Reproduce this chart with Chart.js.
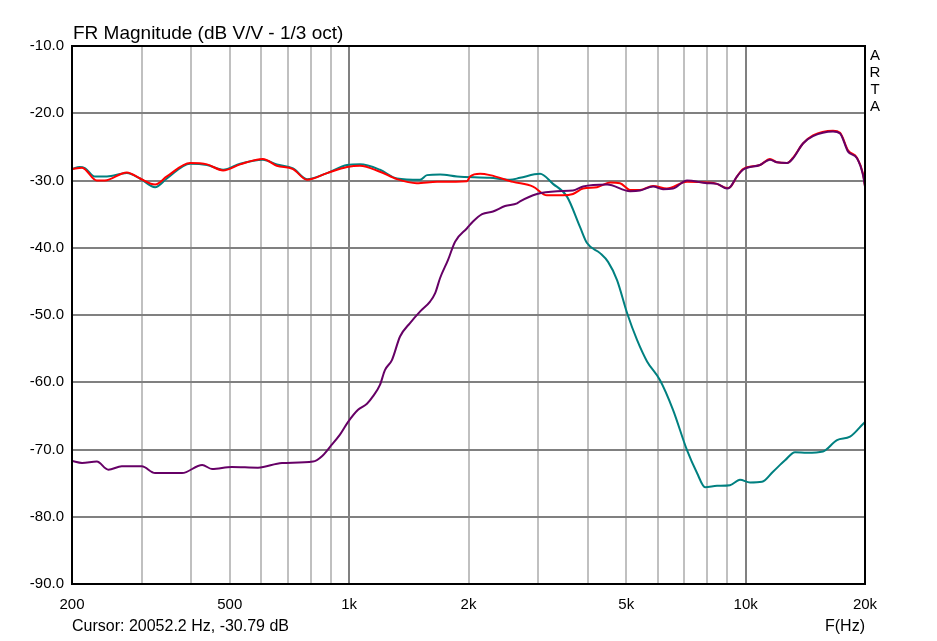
<!DOCTYPE html>
<html>
<head>
<meta charset="utf-8">
<script src="https://cdn.jsdelivr.net/npm/chart.js@4.4.0/dist/chart.umd.min.js"></script>
<style>
  html, body { margin: 0; padding: 0; background: #fff; }
  #wrap { width: 937px; height: 641px; }
</style>
</head>
<body>
<div id="wrap"><canvas id="fr"></canvas></div>
<script>
// Tweeter (purple)
const tweeterHz = [200,212,231,247,267,300,324,379,426,451,506,589,677,811,854,895,948,994,1053,1109,1148,1196,1231,1282,1344,1424,1509,1600,1647,1696,1776,1850,1983,2053,2164,2306,2473,2652,2698,2977,3344,3669,3889,4472,5112,5415,5840,6189,6559,7114,7994,8468,8975,9132,9511,9848,10869,11519,11995,12718,13168,13950,14786,16612,17303,18123,19092,19770,20000];
const tweeterDb = [-71.7,-72.0,-71.8,-73.0,-72.5,-72.5,-73.5,-73.5,-72.3,-72.9,-72.6,-72.7,-72.0,-71.8,-71.0,-69.6,-67.8,-65.9,-64.1,-63.2,-62.1,-60.4,-58.2,-56.7,-53.2,-51.2,-49.5,-48.0,-46.8,-44.5,-41.8,-39.1,-37.1,-36.1,-35.0,-34.6,-33.8,-33.4,-33.1,-32.0,-31.6,-31.5,-30.9,-30.6,-31.6,-31.5,-30.9,-31.3,-31.2,-30.0,-30.4,-30.5,-31.2,-31.0,-29.4,-28.4,-27.7,-26.9,-27.3,-27.4,-26.7,-24.5,-23.4,-22.7,-23.0,-25.7,-26.7,-29.2,-30.9];

// Sum (red)
const sumHz = [200,212,231,242,275,297,324,347,397,438,481,531,606,657,722,783,880,988,1065,1196,1320,1480,1666,1983,2018,2139,2266,2591,2909,3155,3462,3669,3889,4219,4551,4822,5112,5415,5840,6325,7114,7994,8468,8975,9132,9511,9848,10869,11519,11995,12718,13168,13950,14786,16612,17303,18123,19092,19770,20000];
const sumDb = [-28.3,-28.1,-30.0,-30.0,-28.8,-29.7,-30.6,-29.4,-27.4,-27.6,-28.5,-27.6,-26.8,-27.8,-28.3,-29.9,-28.9,-28.0,-27.8,-28.7,-29.8,-30.4,-30.2,-30.1,-29.4,-29.0,-29.2,-30.2,-30.9,-32.2,-32.2,-32.0,-31.2,-31.0,-30.3,-30.4,-31.4,-31.4,-30.8,-31.2,-30.2,-30.3,-30.5,-31.1,-31.0,-29.4,-28.3,-27.7,-26.8,-27.3,-27.4,-26.6,-24.5,-23.3,-22.6,-22.9,-25.5,-26.6,-29.0,-30.8];

// Woofer (teal)
const wooferHz = [200,209,216,228,245,275,297,324,347,397,438,481,531,606,657,722,783,880,988,1065,1196,1320,1509,1572,1696,1871,2266,2546,2698,3030,3267,3544,3821,3980,4293,4498,4739,5023,5322,5641,6083,6559,7114,7541,7901,8468,9132,9677,10257,10996,11722,12570,13322,14278,15672,17003,18336,19770,20000];
const wooferDb = [-28.3,-28.0,-28.2,-29.4,-29.4,-28.9,-29.7,-31.0,-29.7,-27.5,-27.7,-28.4,-27.5,-26.9,-27.6,-28.2,-29.8,-28.9,-27.7,-27.6,-28.4,-29.7,-29.9,-29.2,-29.1,-29.4,-29.6,-29.9,-29.6,-29.0,-30.5,-32.4,-36.9,-39.3,-40.8,-42.1,-44.8,-49.7,-53.7,-56.9,-59.7,-64.1,-70.1,-73.5,-75.6,-75.4,-75.3,-74.5,-74.9,-74.8,-73.3,-71.6,-70.4,-70.5,-70.3,-68.6,-68.1,-66.2,-65.9];

// Axis ticks
const xTicks = [200,300,400,500,600,700,800,900,1000,2000,3000,4000,5000,6000,7000,8000,9000,10000,20000];
const xTickLabels = {200:'200',500:'500',1000:'1k',2000:'2k',5000:'5k',10000:'10k',20000:'20k'};
const yTicks = [-90,-80,-70,-60,-50,-40,-30,-20,-10];

const toPoints = (hz, db) => hz.map((f, i) => ({x: f, y: db[i]}));

const FONT = "'Liberation Sans', Arial, sans-serif";

// Frame and extra captions
const extras = {
    id: 'extras',
    afterDraw(chart) {
        const {ctx, chartArea: a} = chart;
        ctx.save();
        ctx.strokeStyle = '#000';
        ctx.lineWidth = 2;
        ctx.strokeRect(a.left, a.top, a.right - a.left, a.bottom - a.top);
        ctx.fillStyle = '#000';
        ctx.textBaseline = 'middle';
        ctx.font = '19px ' + FONT;
        ctx.textAlign = 'left';
        ctx.fillText('FR Magnitude (dB V/V - 1/3 oct)', 73, 34);
        ctx.font = '16px ' + FONT;
        ctx.fillText('Cursor: 20052.2 Hz, -30.79 dB', 72, 627);
        ctx.textAlign = 'right';
        ctx.fillText('F(Hz)', 865, 627);
        ctx.textAlign = 'center';
        ctx.font = '15px ' + FONT;
        ['A','R','T','A'].forEach((c, i) => ctx.fillText(c, 875, 56 + i * 17));
        ctx.restore();
    }
};

new Chart(document.getElementById('fr').getContext('2d'), {
    type: 'line',
    data: {
        datasets: [
            {label: 'Tweeter', data: toPoints(tweeterHz, tweeterDb), borderColor: '#660066'},
            {label: 'Sum', data: toPoints(sumHz, sumDb), borderColor: '#ff0000'},
            {label: 'Woofer', data: toPoints(wooferHz, wooferDb), borderColor: '#008080'}
        ]
    },
    options: {
        responsive: true,
        maintainAspectRatio: false,
        animation: false,
        layout: {padding: {top: 46, right: 72, left: 0, bottom: 0}},
        elements: {
            point: {radius: 0},
            line: {borderWidth: 2, cubicInterpolationMode: 'monotone'}
        },
        plugins: {legend: {display: false}, tooltip: {enabled: false}},
        scales: {
            x: {
                type: 'logarithmic',
                min: 200,
                max: 20000,
                afterBuildTicks: s => { s.ticks = xTicks.map(v => ({value: v})); },
                afterFit: s => { s.height = 57; },
                ticks: {
                    autoSkip: false,
                    maxRotation: 0,
                    padding: 12,
                    color: '#000',
                    font: {family: FONT, size: 15},
                    callback: v => xTickLabels[v] || ''
                },
                grid: {
                    drawTicks: false,
                    lineWidth: 2,
                    color: c => (c.tick && (c.tick.value === 1000 || c.tick.value === 10000)) ? '#808080' : '#c0c0c0'
                },
                border: {display: false}
            },
            y: {
                min: -90,
                max: -10,
                afterBuildTicks: s => { s.ticks = yTicks.map(v => ({value: v})); },
                afterFit: s => { s.width = 72; },
                ticks: {
                    padding: 8,
                    color: '#000',
                    font: {family: FONT, size: 15},
                    callback: v => v.toFixed(1)
                },
                grid: {drawTicks: false, lineWidth: 2, color: '#808080'},
                border: {display: false}
            }
        }
    },
    plugins: [extras]
});
</script>
</body>
</html>
